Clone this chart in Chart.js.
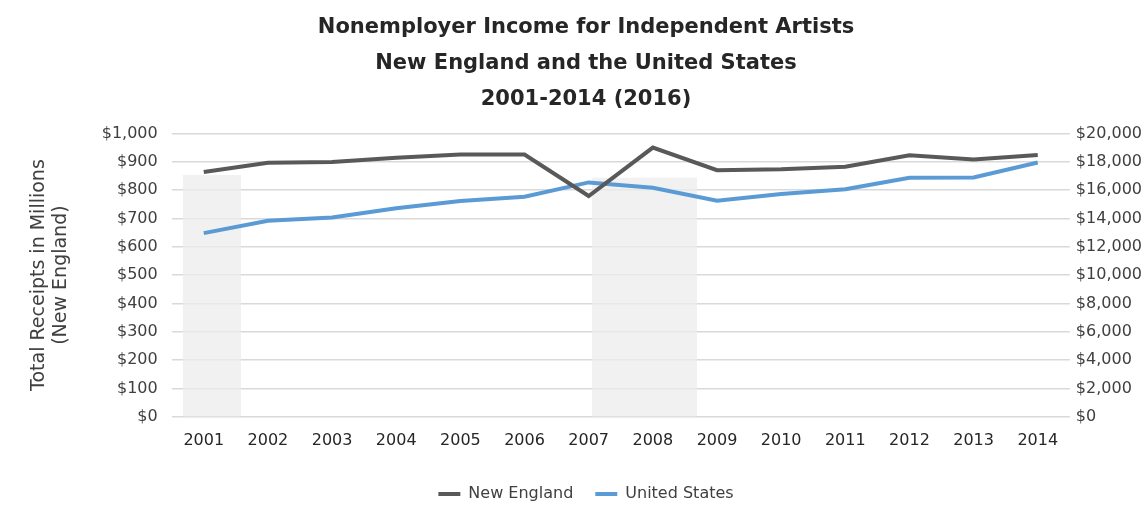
<!DOCTYPE html>
<html>
<head>
<meta charset="utf-8">
<script src="https://cdn.jsdelivr.net/npm/chart.js@4.4.1/dist/chart.umd.min.js"></script>
<style>
  html, body { margin: 0; padding: 0; background: #ffffff; }
  #wrap { width: 1148px; height: 524px; position: relative; }
</style>
</head>
<body>
<div id="wrap"><canvas id="chart"></canvas></div>
<script>
// --- dados ---
const years = ['2001', '2002', '2003', '2004', '2005', '2006', '2007', '2008', '2009', '2010', '2011', '2012', '2013', '2014'];
const newEngland = [864, 896, 899, 914, 925, 925, 779, 950, 870, 873, 882, 923, 908, 924];
const unitedStates = [12960, 13830, 14060, 14710, 15230, 15530, 16540, 16160, 15250, 15720, 16050, 16870, 16890, 17940];

// faixas cinzentas (recessões), em anos fracionários no eixo x
const shade2001 = [{ x: 2000.67, y: 853 }, { x: 2001.58, y: 853 }];
const shade2008 = [{ x: 2007.05, y: 843 }, { x: 2008.69, y: 843 }];

const leftTicks = { min: 0, max: 1000, step: 100 };
const rightTicks = { min: 0, max: 20000, step: 2000 };

const FONT = '"DejaVu Sans", sans-serif';
const fmt = v => '$' + v.toLocaleString('en-US');

function shadeSet(points) {
    return {
        type: 'line', label: '', data: points, xAxisID: 'xs', yAxisID: 'y',
        parsing: { xAxisKey: 'x', yAxisKey: 'y' },
        borderWidth: 0, pointRadius: 0, fill: 'origin',
        backgroundColor: 'rgba(236,236,236,0.75)', borderColor: 'rgba(0,0,0,0)', order: 5
    };
}

new Chart(document.getElementById('chart'), {
    type: 'line',
    data: {
        labels: years,
        datasets: [
            {
                label: 'New England', data: newEngland, yAxisID: 'y',
                borderColor: '#595959', backgroundColor: '#595959',
                borderWidth: 4, pointRadius: 0, tension: 0, order: 1
            },
            {
                label: 'United States', data: unitedStates, yAxisID: 'y2',
                borderColor: '#5b9bd5', backgroundColor: '#5b9bd5',
                borderWidth: 4, pointRadius: 0, tension: 0, order: 2
            },
            shadeSet(shade2001),
            shadeSet(shade2008)
        ]
    },
    options: {
        responsive: true, maintainAspectRatio: false, animation: false,
        layout: { padding: { left: 24, right: 0, top: 9, bottom: 12 } },
        plugins: {
            title: {
                display: true,
                text: ['Nonemployer Income for Independent Artists', 'New England and the United States', '2001-2014 (2016)'],
                font: { family: FONT, size: 21, weight: 'bold', lineHeight: 1.72 },
                color: '#262626',
                padding: { top: 0, bottom: 16 }
            },
            legend: {
                position: 'bottom',
                labels: {
                    filter: item => item.text !== '',
                    usePointStyle: true, pointStyle: 'line', pointStyleWidth: 22,
                    boxHeight: 4, color: '#404040',
                    font: { family: FONT, size: 16 }, padding: 22
                }
            },
            tooltip: { enabled: false }
        },
        scales: {
            x: {
                type: 'category', offset: true,
                grid: { display: false, drawTicks: false },
                border: { display: false },
                ticks: { color: '#262626', font: { family: FONT, size: 16 }, padding: 14, maxRotation: 0 }
            },
            xs: {
                type: 'linear', display: false, min: 2000.5, max: 2014.5
            },
            y: {
                position: 'left', min: leftTicks.min, max: leftTicks.max,
                grid: { color: '#d9d9d9', lineWidth: 1.5, drawTicks: false },
                border: { display: false },
                ticks: { stepSize: leftTicks.step, callback: v => fmt(v), color: '#404040', font: { family: FONT, size: 16 }, padding: 14 },
                title: {
                    display: true, text: ['Total Receipts in Millions', '(New England)'],
                    color: '#404040', font: { family: FONT, size: 19, lineHeight: 1.15 }, padding: { bottom: 16 }
                }
            },
            y2: {
                position: 'right', min: rightTicks.min, max: rightTicks.max,
                grid: { display: false, drawTicks: false },
                border: { display: false },
                ticks: { stepSize: rightTicks.step, callback: v => fmt(v), color: '#404040', font: { family: FONT, size: 16 }, padding: 6 }
            }
        }
    }
});
</script>
</body>
</html>
